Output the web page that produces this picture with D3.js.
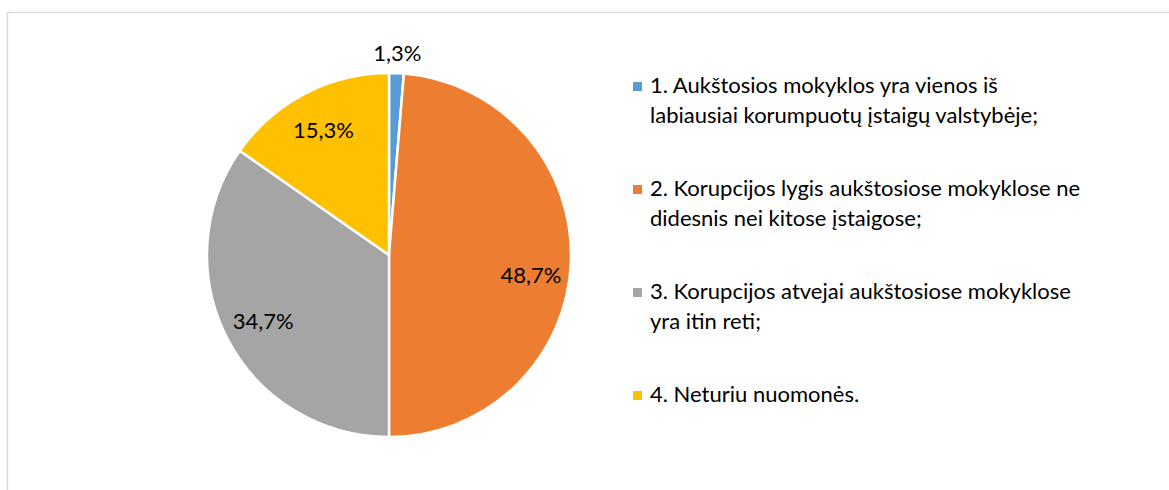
<!DOCTYPE html>
<html>
<head>
<meta charset="utf-8">
<script src="https://cdn.jsdelivr.net/npm/d3@7"></script>
<style>
  body { margin: 0; background: #fff; }
  text { font-family: Lato, "Open Sans", sans-serif; fill: #000; }
</style>
</head>
<body>
<div id="chart"></div>
<script>
// chart data
var categories = ["1", "2", "3", "4"];
var shares = [1.3, 48.7, 34.7, 15.3];
var valueLabels = ["1,3%", "48,7%", "34,7%", "15,3%"];
var legendLines = [
    ["1. Aukštosios mokyklos yra vienos iš", "labiausiai korumpuotų įstaigų valstybėje;"],
    ["2. Korupcijos lygis aukštosiose mokyklose ne", "didesnis nei kitose įstaigose;"],
    ["3. Korupcijos atvejai aukštosiose mokyklose", "yra itin reti;"],
    ["4. Neturiu nuomonės."]
];
var colours = ["#5B9BD5", "#ED7D31", "#A5A5A5", "#FFC000"];

var w = 1169, h = 490;

var svg = d3.select("#chart")
    .append("svg")
    .attr("width", w)
    .attr("height", h);

// chart area frame (right and bottom edges fall outside the picture)
svg.append("rect")
    .attr("x", 7.5).attr("y", 12.5)
    .attr("width", 1300).attr("height", 600)
    .attr("fill", "none")
    .attr("stroke", "#d9d9d9")
    .attr("stroke-width", 1.5);

var cx = 389, cy = 255, radius = 182;

var color = d3.scaleOrdinal().domain(categories).range(colours);

var pie = d3.pie().sort(null).value(function (d) { return d; });
var arcs = pie(shares);

var arc = d3.arc().innerRadius(0).outerRadius(radius);
var labelArc = d3.arc().innerRadius(142).outerRadius(142);
var outerArc = d3.arc().innerRadius(203).outerRadius(203);

var g = svg.append("g").attr("transform", "translate(" + cx + "," + cy + ")");

g.selectAll("path")
    .data(arcs)
    .enter()
    .append("path")
    .attr("d", arc)
    .attr("fill", function (d, i) { return color(categories[i]); })
    .attr("stroke", "#fff")
    .attr("stroke-width", 2.5)
    .attr("stroke-linejoin", "round");

// small slices get their label outside the pie
var nudge = [0, 14, 0, 0];
g.selectAll("text.val")
    .data(arcs)
    .enter()
    .append("text")
    .attr("class", "val")
    .attr("transform", function (d, i) {
        var small = (d.endAngle - d.startAngle) < 0.2;
        var p = small ? outerArc.centroid(d) : labelArc.centroid(d);
        return "translate(" + p[0] + "," + (p[1] + nudge[i]) + ")";
    })
    .attr("text-anchor", "middle")
    .attr("dominant-baseline", "central")
    .style("font-size", "22px")
    .text(function (d, i) { return valueLabels[i]; });

// legend
var legend = svg.append("g").attr("transform", "translate(633,0)");
var itemY = d3.scaleLinear().domain([0, 3]).range([93, 402]);

var items = legend.selectAll("g.item")
    .data(categories)
    .enter()
    .append("g")
    .attr("class", "item")
    .attr("transform", function (d, i) { return "translate(0," + itemY(i) + ")"; });

items.append("rect")
    .attr("x", 0).attr("y", -11)
    .attr("width", 9).attr("height", 9)
    .attr("fill", function (d) { return color(d); });

items.each(function (d, i) {
    var t = d3.select(this).append("text")
        .attr("x", 17)
        .style("font-size", "22px");
    legendLines[i].forEach(function (line, j) {
        t.append("tspan").attr("x", 17).attr("y", j * 30).text(line);
    });
});
</script>
</body>
</html>
